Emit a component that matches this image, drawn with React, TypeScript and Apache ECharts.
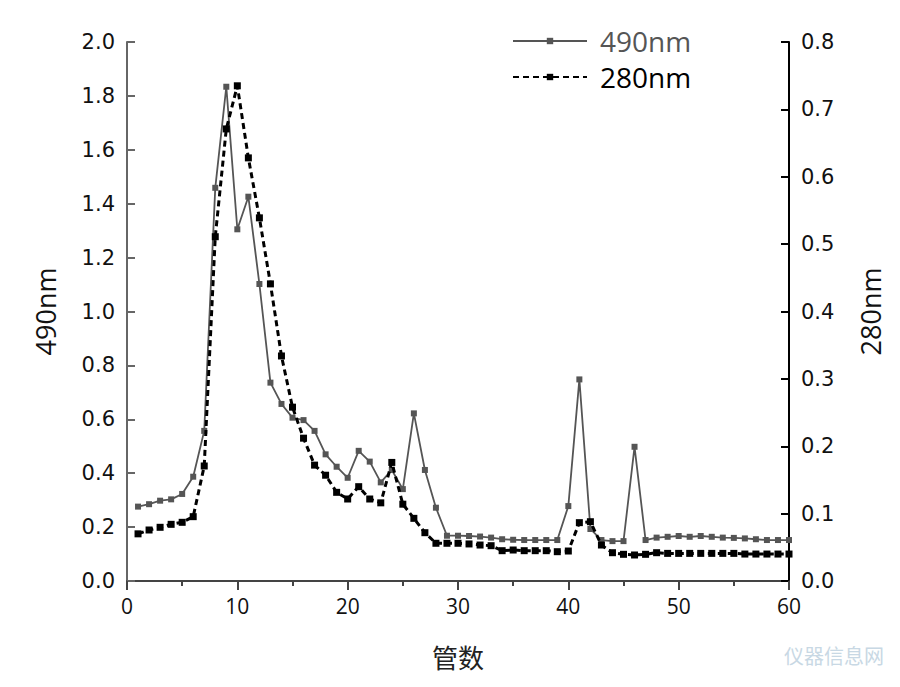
import React, { useEffect, useRef } from "react";
import * as echarts from "echarts";

const tubes: number[] = Array.from({ length: 60 }, (_, i) => i + 1);

const a490: number[] = [
  0.276, 0.285, 0.298, 0.303, 0.323, 0.387, 0.557, 1.459, 1.834, 1.305,
  1.426, 1.102, 0.736, 0.657, 0.606, 0.597, 0.557, 0.47, 0.424, 0.383,
  0.483, 0.443, 0.366, 0.412, 0.341, 0.622, 0.412, 0.272, 0.168, 0.168,
  0.167, 0.165, 0.161, 0.155, 0.153, 0.152, 0.152, 0.152, 0.152, 0.278,
  0.748, 0.193, 0.152, 0.148, 0.148, 0.498, 0.152, 0.161, 0.164, 0.167,
  0.164, 0.167, 0.164, 0.161, 0.16, 0.158, 0.155, 0.152, 0.152, 0.152,
];

const a280: number[] = [
  0.07, 0.0757, 0.0797, 0.0841, 0.0871, 0.0955, 0.1707, 0.511, 0.671, 0.735,
  0.628, 0.539, 0.441, 0.334, 0.258, 0.212, 0.172, 0.157, 0.1316, 0.1217,
  0.14, 0.1217, 0.116, 0.176, 0.114, 0.093, 0.0717, 0.056, 0.056, 0.056,
  0.055, 0.0534, 0.0524, 0.045, 0.046, 0.045, 0.045, 0.045, 0.0435, 0.0445,
  0.0866, 0.088, 0.0534, 0.042, 0.0396, 0.0386, 0.0396, 0.042, 0.041, 0.041,
  0.041, 0.041, 0.041, 0.041, 0.041, 0.04, 0.04, 0.04, 0.04, 0.04,
];

const leftTicks = { min: 0, max: 2.0, interval: 0.2 };
const rightTicks = { min: 0, max: 0.8, interval: 0.1 };
const xTicks = { min: 0, max: 60, interval: 10 };

export default function App() {
  const ref = useRef<HTMLDivElement>(null);
  useEffect(() => {
    if (!ref.current) return;
    const chart = echarts.init(ref.current, null, { renderer: "svg" });
    const font = "'DejaVu Sans', 'Noto Sans', sans-serif";
    chart.setOption({
      animation: false,
      backgroundColor: "#fff",
      grid: { left: 127, right: 111, top: 42, bottom: 106 },
      legend: {
        orient: "vertical",
        left: 507,
        top: 22,
        itemWidth: 74,
        itemHeight: 8,
        itemGap: 8,
        textStyle: { fontSize: 28, fontFamily: "'Open Sans', 'Noto Sans', sans-serif", padding: [0, 0, 0, 8] },
        data: [
          { name: "490nm", textStyle: { color: "#555" } },
          { name: "280nm", textStyle: { color: "#000" } },
        ],
      },
      xAxis: {
        type: "value",
        min: xTicks.min,
        max: xTicks.max,
        interval: xTicks.interval,
        name: "管数",
        nameLocation: "middle",
        nameGap: 62,
        nameTextStyle: { fontSize: 26, color: "#222", fontFamily: "'Noto Sans CJK SC', sans-serif" },
        axisLine: { onZero: false, lineStyle: { color: "#444", width: 2 } },
        axisTick: { inside: false, length: 9, lineStyle: { color: "#444", width: 2 } },
        minorTick: { show: true, splitNumber: 2, length: 5, lineStyle: { color: "#444", width: 2 } },
        axisLabel: { fontSize: 21, color: "#111", margin: 14, fontFamily: "'Open Sans', sans-serif" },
        splitLine: { show: false },
      },
      yAxis: [
        {
          type: "value",
          min: leftTicks.min,
          max: leftTicks.max,
          interval: leftTicks.interval,
          position: "left",
          name: "490nm",
          nameLocation: "middle",
          nameRotate: 90,
          nameGap: 68,
          nameTextStyle: { fontSize: 27, color: "#111", fontFamily: "'Open Sans', sans-serif" },
          axisLine: { show: true, lineStyle: { color: "#666", width: 2 } },
          axisTick: { show: true, inside: true, length: 8, lineStyle: { color: "#666", width: 2 } },
          axisLabel: {
            fontSize: 21,
            color: "#111",
            margin: 12,
            fontFamily: font,
            formatter: (v: number) => v.toFixed(1),
          },
          splitLine: { show: false },
        },
        {
          type: "value",
          min: rightTicks.min,
          max: rightTicks.max,
          interval: rightTicks.interval,
          position: "right",
          name: "280nm",
          nameLocation: "middle",
          nameRotate: 90,
          nameGap: 68,
          nameTextStyle: { fontSize: 27, color: "#111", fontFamily: "'Open Sans', sans-serif" },
          axisLine: { show: true, lineStyle: { color: "#000", width: 2 } },
          axisTick: { show: true, inside: true, length: 8, lineStyle: { color: "#000", width: 2 } },
          axisLabel: {
            fontSize: 21,
            color: "#111",
            margin: 12,
            fontFamily: font,
            formatter: (v: number) => v.toFixed(1),
          },
          splitLine: { show: false },
        },
      ],
      series: [
        {
          name: "490nm",
          type: "line",
          yAxisIndex: 0,
          data: tubes.map((t, i) => [t, a490[i]]),
          symbol: "rect",
          symbolSize: 6,
          showAllSymbol: true,
          itemStyle: { color: "#555" },
          lineStyle: { color: "#555", width: 1.8 },
          z: 2,
        },
        {
          name: "280nm",
          type: "line",
          yAxisIndex: 1,
          data: tubes.map((t, i) => [t, a280[i]]),
          symbol: "rect",
          symbolSize: 7,
          showAllSymbol: true,
          itemStyle: { color: "#000" },
          lineStyle: { color: "#000", width: 3, type: [6, 4] },
          z: 3,
        },
      ],
      graphic: [
        {
          type: "text",
          right: 16,
          bottom: 22,
          style: { text: "仪器信息网", fontSize: 20, fill: "#c8d8e4", fontFamily: "'Noto Sans CJK SC', sans-serif" },
        },
      ],
    });
    return () => chart.dispose();
  }, []);
  return <div ref={ref} style={{ width: 900, height: 687, position: "absolute", left: 0, top: 0 }} />;
}
